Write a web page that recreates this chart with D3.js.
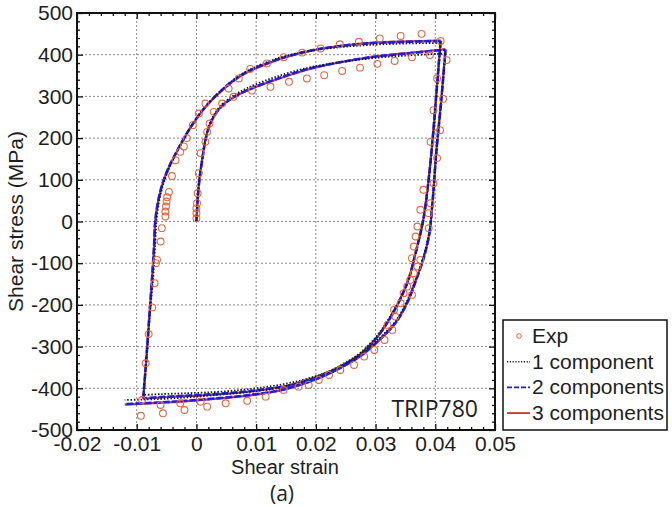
<!DOCTYPE html>
<html lang="en">
<head>
  <meta charset="UTF-8">
  <title>TRIP780 shear hysteresis</title>
  <script src="https://d3js.org/d3.v7.min.js"></script>
  <style>
    body { margin: 0; background: #fff; }
    svg { display: block; }
    text { font-family: "Liberation Sans", Arial, sans-serif; fill: #1e1e1e; }
    .grid line { stroke: #8a8a8a; stroke-width: 1; stroke-dasharray: 2,2; }
    .axis path { display: none; }
    .axis line { stroke: #111; stroke-width: 1.3; }
    .axis text { font-size: 21px; font-family: "Liberation Sans", Arial, sans-serif; fill: #1e1e1e; }
  </style>
</head>
<body>
<svg width="672" height="507"></svg>
<script>
  const xTicks = [-0.02, -0.01, 0, 0.01, 0.02, 0.03, 0.04, 0.05];
  const xTickLabels = ["-0.02", "-0.01", "0", "0.01", "0.02", "0.03", "0.04", "0.05"];
  const yTicks = [500, 400, 300, 200, 100, 0, -100, -200, -300, -400, -500];
  const yTickLabels = ["500", "400", "300", "200", "100", "0", "-100", "-200", "-300", "-400", "-500"];

  // experimental points [strain, stress]
  const exp = [
    [0, 8], [0, 20], [0, 32], [0.0001, 44], [0.0002, 68], [0.0004, 116], [0.0007, 164],
    [0.0015, 191], [0.0018, 215], [0.0022, 235], [0.0029, 263], [0.0043, 283], [0.0062, 299],
    [0.0093, 314], [0.0124, 323], [0.0155, 335], [0.0185, 343], [0.0214, 351], [0.0244, 361],
    [0.0274, 369], [0.0303, 378], [0.0332, 385], [0.0361, 394], [0.0391, 399], [0.0419, 387],
    [0.0413, 294], [0.0408, 219], [0.0403, 152], [0.0397, 92], [0.0392, 44], [0.0389, 20], [0.0389, -16],
    [0.0403, 343], [0.0397, 267], [0.0392, 191], [0.0380, 76], [0.0375, 28], [0.0370, -12],
    [0.0367, -36], [0.0364, -60], [0.0361, -88], [0.0375, -92], [0.0370, -108], [0.0364, -124],
    [0.0358, -140], [0.0353, -156], [0.0361, -176], [0.0347, -172], [0.0342, -196], [0.0331, -212],
    [0.0333, -228], [0.0320, -248], [0.0328, -260], [0.0315, -284], [0.0298, -308], [0.0281, -324],
    [0.0264, -344], [0.0241, -356], [0.0222, -368], [0.0205, -380], [0.0188, -392], [0.0171, -396],
    [0.0146, -404], [0.0116, -420], [0.0085, -430], [0.0049, -436], [0.0018, -444], [0.0007, -432],
    [-0.0020, -452], [-0.0027, -436], [-0.0056, -460], [-0.0060, -440], [-0.0093, -466], [-0.0091, -428],
    [-0.0085, -340], [-0.0080, -270], [-0.0074, -206], [-0.0070, -148], [-0.0068, -100], [-0.0066, -92],
    [-0.0060, -48], [-0.0058, -16], [-0.0052, 12], [-0.0052, 24], [-0.0051, 36], [-0.0050, 48],
    [-0.0049, 58], [-0.0046, 71], [-0.0041, 109], [-0.0035, 147], [-0.0027, 167],
    [-0.0021, 180], [-0.0016, 200], [-0.0006, 231], [0.0004, 259], [0.0015, 283],
    [0.0054, 319], [0.0071, 343], [0.0090, 366], [0.0118, 379], [0.0146, 394], [0.0177, 405],
    [0.0208, 415], [0.0240, 425], [0.0272, 431], [0.0307, 439], [0.0342, 445], [0.0377, 450], [0.0409, 433]
  ];

  // model curves, each split in branches: load, unload, reload, unload
  const oneComp = [
    [[0, 0], [0.0002, 55], [0.0005, 105], [0.001, 155], [0.0015, 198], [0.0022, 234], [0.0032, 262],
     [0.0045, 284], [0.0062, 302], [0.0085, 320], [0.0129, 345], [0.0185, 368], [0.0241, 382],
     [0.0297, 392], [0.0353, 398], [0.0403, 402], [0.0417, 403]],
    [[0.0417, 403], [0.0402, 165], [0.0395, 40], [0.0390, -25], [0.0380, -85], [0.0368, -135],
     [0.0353, -190], [0.0335, -236], [0.0315, -268], [0.0297, -292], [0.0275, -318], [0.0252, -338],
     [0.0225, -358], [0.0202, -370], [0.0175, -381], [0.0146, -390], [0.011, -398], [0.0074, -404],
     [0.003, -409], [-0.002, -412], [-0.006, -414], [-0.0089, -416]],
    [[-0.0089, -416], [-0.0083, -320], [-0.0078, -225], [-0.0072, -125], [-0.0069, -55], [-0.0067, 0],
     [-0.0062, 52], [-0.0055, 92], [-0.0045, 130], [-0.0032, 168], [-0.0020, 200], [-0.0006, 235],
     [0.0013, 272], [0.0037, 308], [0.0074, 352], [0.0129, 388], [0.0185, 408], [0.0241, 418],
     [0.0297, 424], [0.0353, 427], [0.0409, 428]],
    [[0.0409, 428], [0.0402, 305], [0.0395, 183], [0.0388, 85], [0.0380, 2], [0.0368, -72],
     [0.0355, -140], [0.034, -188], [0.032, -238], [0.03, -278], [0.0275, -314], [0.025, -338],
     [0.0225, -357], [0.02, -372], [0.017, -386], [0.014, -398], [0.01, -407], [0.005, -414],
     [0, -420], [-0.005, -425], [-0.012, -428]]
  ];

  const twoComp = [
    [[0, 0], [0.0002, 50], [0.0005, 100], [0.001, 150], [0.0015, 195], [0.0022, 230], [0.0032, 258],
     [0.0045, 280], [0.0062, 298], [0.0085, 315], [0.0129, 339], [0.0185, 365], [0.0241, 382],
     [0.0297, 395], [0.0353, 403], [0.0403, 410], [0.0417, 412]],
    [[0.0417, 412], [0.0410, 290], [0.0402, 171], [0.0395, 40], [0.0390, -30], [0.0380, -90],
     [0.0368, -140], [0.0353, -195], [0.0335, -240], [0.0315, -272], [0.0297, -296], [0.0275, -322],
     [0.0252, -342], [0.0225, -362], [0.0202, -375], [0.0175, -387], [0.0146, -396], [0.011, -403],
     [0.0074, -409], [0.003, -414], [-0.002, -418], [-0.006, -421], [-0.0089, -424]],
    [[-0.0089, -424], [-0.0084, -330], [-0.0079, -230], [-0.0074, -130], [-0.0071, -60], [-0.0069, 0],
     [-0.0064, 50], [-0.0057, 90], [-0.0047, 128], [-0.0034, 165], [-0.0022, 197], [-0.0008, 230],
     [0.0011, 268], [0.0035, 305], [0.0074, 350], [0.0129, 385], [0.0185, 408], [0.0241, 421],
     [0.0297, 428], [0.0353, 431], [0.0409, 433]],
    [[0.0409, 433], [0.0402, 310], [0.0395, 188], [0.0388, 90], [0.0380, 5], [0.0368, -70],
     [0.0355, -140], [0.034, -190], [0.032, -242], [0.03, -282], [0.0275, -318], [0.025, -342],
     [0.0225, -362], [0.02, -378], [0.017, -393], [0.014, -405], [0.01, -414], [0.005, -422],
     [0, -428], [-0.005, -433], [-0.012, -438]]
  ];

  const threeComp = [
    [[0, 0], [0.0002, 51], [0.0005, 101], [0.001, 151], [0.0015, 195], [0.0022, 231], [0.0032, 258],
     [0.0045, 280], [0.0062, 297], [0.0085, 314], [0.0129, 338], [0.0185, 364], [0.0241, 382],
     [0.0297, 395], [0.0353, 404], [0.0403, 411], [0.0417, 413]],
    [[0.0417, 413], [0.0410, 291], [0.0402, 172], [0.0395, 41], [0.0390, -29], [0.0380, -89],
     [0.0368, -139], [0.0353, -194], [0.0335, -240], [0.0315, -273], [0.0297, -297], [0.0275, -323],
     [0.0252, -343], [0.0225, -362], [0.0202, -375], [0.0175, -387], [0.0146, -396], [0.011, -404],
     [0.0074, -410], [0.003, -415], [-0.002, -419], [-0.006, -422], [-0.0089, -425]],
    [[-0.0089, -425], [-0.0084, -331], [-0.0079, -231], [-0.0074, -131], [-0.0071, -61], [-0.0069, 0],
     [-0.0064, 49], [-0.0057, 89], [-0.0047, 127], [-0.0034, 164], [-0.0022, 196], [-0.0008, 229],
     [0.0011, 267], [0.0035, 304], [0.0074, 349], [0.0129, 384], [0.0185, 407], [0.0241, 421],
     [0.0297, 429], [0.0353, 432], [0.0409, 434]],
    [[0.0409, 434], [0.0402, 311], [0.0395, 189], [0.0388, 91], [0.0380, 6], [0.0368, -69],
     [0.0355, -139], [0.034, -190], [0.032, -242], [0.03, -282], [0.0275, -318], [0.025, -343],
     [0.0225, -363], [0.02, -379], [0.017, -394], [0.014, -405], [0.01, -415], [0.005, -423],
     [0, -429], [-0.005, -434], [-0.012, -439]]
  ];

  const svg = d3.select("svg");
  const mLeft = 77, mRight = 495, mTop = 13, mBottom = 430;

  const x = d3.scaleLinear().domain([-0.02, 0.05]).range([mLeft, mRight]);
  const y = d3.scaleLinear().domain([-500, 500]).range([mBottom, mTop]);

  const xMinor = d3.range(-0.02, 0.0501, 0.002).filter(v => !xTicks.some(t => Math.abs(t - v) < 1e-9));
  const yMinor = d3.range(-500, 501, 20).filter(v => v % 100 !== 0);

  // grid
  const grid = svg.append("g").attr("class", "grid");
  grid.selectAll("line.gx")
    .data(xTicks.slice(1, -1))
    .join("line")
    .attr("class", "gx")
    .attr("x1", d => x(d)).attr("x2", d => x(d))
    .attr("y1", mTop).attr("y2", mBottom);
  grid.selectAll("line.gy")
    .data(yTicks.slice(1, -1))
    .join("line")
    .attr("class", "gy")
    .attr("y1", d => y(d)).attr("y2", d => y(d))
    .attr("x1", mLeft).attr("x2", mRight);

  // axes, ticks pointing in
  svg.append("g").attr("class", "axis")
    .attr("transform", `translate(0,${mBottom})`)
    .call(d3.axisBottom(x).tickValues(xTicks).tickSize(-6).tickPadding(6)
      .tickFormat((d, i) => xTickLabels[i]));
  svg.append("g").attr("class", "axis")
    .attr("transform", `translate(${mLeft},0)`)
    .call(d3.axisLeft(y).tickValues(yTicks).tickSize(-6).tickPadding(4)
      .tickFormat((d, i) => yTickLabels[i]));
  svg.append("g").attr("class", "axis")
    .attr("transform", `translate(0,${mTop})`)
    .call(d3.axisTop(x).tickValues(xTicks).tickSize(-6).tickFormat(""));
  svg.append("g").attr("class", "axis")
    .attr("transform", `translate(${mRight},0)`)
    .call(d3.axisRight(y).tickValues(yTicks).tickSize(-6).tickFormat(""));

  // minor ticks
  svg.append("g").attr("class", "axis").attr("transform", `translate(0,${mBottom})`)
    .call(d3.axisBottom(x).tickValues(xMinor).tickSize(-3).tickFormat(""));
  svg.append("g").attr("class", "axis").attr("transform", `translate(0,${mTop})`)
    .call(d3.axisTop(x).tickValues(xMinor).tickSize(-3).tickFormat(""));
  svg.append("g").attr("class", "axis").attr("transform", `translate(${mLeft},0)`)
    .call(d3.axisLeft(y).tickValues(yMinor).tickSize(-3).tickFormat(""));
  svg.append("g").attr("class", "axis").attr("transform", `translate(${mRight},0)`)
    .call(d3.axisRight(y).tickValues(yMinor).tickSize(-3).tickFormat(""));

  // curves
  const line = d3.line()
    .x(d => x(d[0]))
    .y(d => y(d[1]))
    .curve(d3.curveCatmullRom.alpha(0.5));

  const series = [
    { data: threeComp, color: "#c8372d", width: 2.2, dash: null },
    { data: twoComp, color: "#1c1cf0", width: 2.6, dash: "7,2" },
    { data: oneComp, color: "#1a1a1a", width: 1.8, dash: "1.5,1.8" }
  ];

  series.forEach(s => {
    svg.append("g").selectAll("path")
      .data(s.data)
      .join("path")
      .attr("d", line)
      .attr("fill", "none")
      .attr("stroke", s.color)
      .attr("stroke-width", s.width)
      .attr("stroke-dasharray", s.dash);
  });

  svg.append("g").selectAll("circle")
    .data(exp)
    .join("circle")
    .attr("cx", d => x(d[0]))
    .attr("cy", d => y(d[1]))
    .attr("r", 3.4)
    .attr("fill", "none")
    .attr("stroke", "#dd6a44")
    .attr("stroke-width", 1.1);

  // frame
  svg.append("rect")
    .attr("x", mLeft).attr("y", mTop)
    .attr("width", mRight - mLeft).attr("height", mBottom - mTop)
    .attr("fill", "none").attr("stroke", "#111").attr("stroke-width", 2);

  // labels
  svg.append("text")
    .attr("transform", `translate(23,${(mTop + mBottom) / 2}) rotate(-90)`)
    .attr("text-anchor", "middle")
    .style("font-size", "21px")
    .text("Shear stress (MPa)");
  svg.append("text")
    .attr("x", 285).attr("y", 474)
    .attr("text-anchor", "middle")
    .style("font-size", "20px")
    .text("Shear strain");
  svg.append("text")
    .attr("x", 282).attr("y", 501)
    .attr("text-anchor", "middle")
    .style("font-family", "'Open Sans', sans-serif")
    .style("font-size", "21px")
    .text("(a)");
  svg.append("text")
    .attr("x", 478).attr("y", 417)
    .attr("text-anchor", "end")
    .style("font-family", "'Open Sans', sans-serif")
    .style("font-size", "23px")
    .text("TRIP780");

  // legend
  const legendItems = [
    { label: "Exp", type: "marker" },
    { label: "1 component", color: "#1a1a1a", width: 1.5, dash: "1.2,1.6" },
    { label: "2 components", color: "#1c1cf0", width: 1.6, dash: "5,2" },
    { label: "3 components", color: "#c8372d", width: 1.8, dash: null }
  ];
  const lg = svg.append("g");
  lg.append("rect")
    .attr("x", 503).attr("y", 320).attr("width", 164).attr("height", 110)
    .attr("fill", "#fff").attr("stroke", "#111").attr("stroke-width", 1.5);
  const rows = lg.selectAll("g.row")
    .data(legendItems)
    .join("g")
    .attr("class", "row")
    .attr("transform", (d, i) => `translate(0,${343 + i * 25.7})`);
  rows.append("text")
    .attr("x", 532).attr("y", 0)
    .style("font-size", "21px")
    .text(d => d.label);
  rows.filter(d => d.type === "marker").append("circle")
    .attr("cx", 519).attr("cy", -7).attr("r", 2.3)
    .attr("fill", "none").attr("stroke", "#dd6a44").attr("stroke-width", 1);
  rows.filter(d => d.type !== "marker").append("line")
    .attr("x1", 507).attr("x2", 530).attr("y1", -7).attr("y2", -7)
    .attr("stroke", d => d.color)
    .attr("stroke-width", d => d.width)
    .attr("stroke-dasharray", d => d.dash);
</script>
</body>
</html>
